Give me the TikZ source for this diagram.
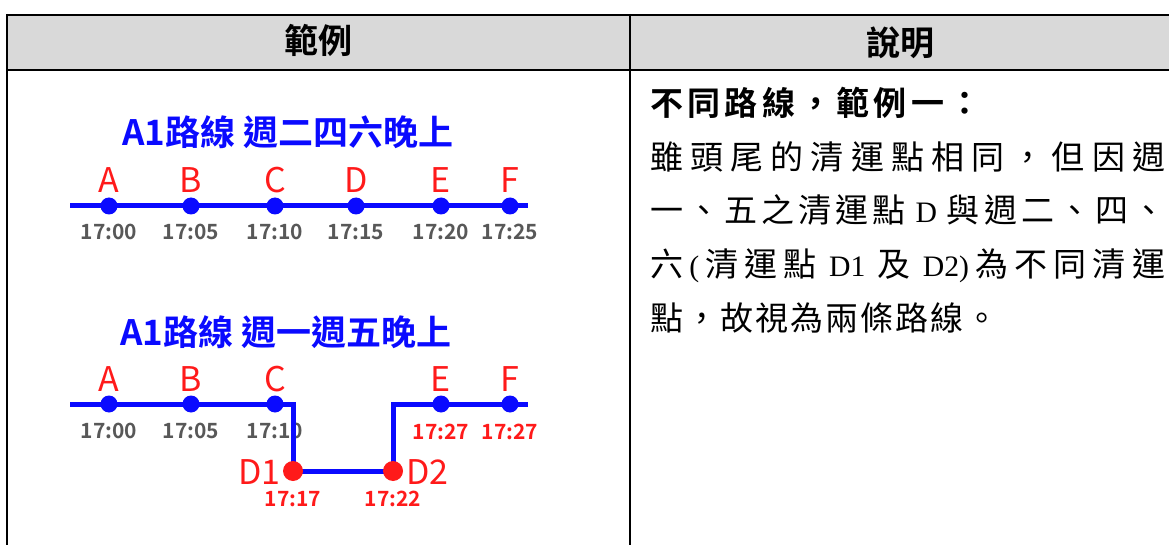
\documentclass[tikz,border=0pt]{standalone}
\usepackage{fontspec}
\setmainfont{Noto Sans CJK TC}[BoldFont={* Bold}]
\newfontfamily\tms[Scale=0.9]{Liberation Serif}
\definecolor{hdr}{HTML}{D9D9D9}
\definecolor{rb}{HTML}{0A0AFF}
\definecolor{rr}{HTML}{FF1A1A}
\definecolor{tg}{HTML}{585858}
\makeatletter
\newcommand\jline[2]{\makebox[#1][s]{\def\jsep{}\@tfor\jtok:=#2\do{\jsep{\jtok}\def\jsep{\hfil}}}}
\makeatother
\begin{document}
\begin{tikzpicture}[x=1pt,y=-1pt,
  grid/.style={line width=2.2pt, draw=black},
  route/.style={draw=rb, line width=5pt},
  bdot/.style={circle, fill=rb, minimum size=17pt, inner sep=0pt},
  rdot/.style={circle, fill=rr, minimum size=20pt, inner sep=0pt},
  stn/.style={text=rr, font=\fontsize{34}{34}\selectfont, anchor=base, inner sep=0pt},
  ttl/.style={text=rb, font=\fontsize{35}{35}\selectfont\bfseries, anchor=base, inner sep=0pt},
  tm/.style={text=tg, font=\fontsize{21}{21}\selectfont\bfseries, anchor=base, inner sep=0pt},
  rtm/.style={text=rr, font=\fontsize{21}{21}\selectfont\bfseries, anchor=base, inner sep=0pt},
  body/.style={anchor=base west, inner sep=0pt, font=\fontsize{33}{33}\selectfont},
  hd/.style={anchor=base, inner sep=0pt, font=\fontsize{34}{34}\selectfont\bfseries}]
\useasboundingbox (0,0) rectangle (1169,545);
% table
\fill[hdr] (7,15) rectangle (1180,70);
\draw[grid] (7,15) -- (1180,15);
\draw[grid] (7,70) -- (1180,70);
\draw[grid] (7,14) -- (7,550);
\draw[grid] (630,14) -- (630,550);
\node[hd] (h1) at (318,54) {範例};
\node[hd] (h2) at (900,56) {說明};
% top diagram
\node[ttl] (t1) at (288,146) {A1路線 週二四六晚上};
\coordinate (s1) at (70,206);
\coordinate (e1) at (528,206);
\foreach \n/\x/\t in {A/109/17:00,B/191/17:05,C/275/17:10,D/356/17:15,E/441/17:20,F/510/17:25}{
  \node[tm] (tt\n) at (\x,240) {\t};
}
\draw[route] (s1) -- (e1);
\foreach \n/\x in {A/109,B/191,C/275,D/356,E/441,F/510}{
  \node[bdot] (p\n) at (\x,206) {};
  \node[stn] (l\n) at (\x,193) {\n};
}
% bottom diagram
\node[ttl] (t2) at (286,345) {A1路線 週一週五晚上};
\foreach \n/\x/\t in {A/109/17:00,B/191/17:05,C/275/17:10}{
  \node[tm] (bt\n) at (\x,438) {\t};
}
\node[rtm] (btE) at (441,439) {17:27};
\node[rtm] (btF) at (510,439) {17:27};
\node[rtm] (btD1) at (293,506) {17:17};
\node[rtm] (btD2) at (393,506) {17:22};
\coordinate (s2) at (70,404);
\coordinate (c2) at (293,404);
\coordinate (q1) at (293,471);
\coordinate (q2) at (393,471);
\coordinate (c3) at (393,404);
\coordinate (e2) at (528,404);
\draw[route] (s2) -- (c2) -- (q1) -- (q2) -- (c3) -- (e2);
\foreach \n/\x in {A/109,B/191,C/275,E/441,F/510}{
  \node[bdot] (bp\n) at (\x,404) {};
  \node[stn] (bl\n) at (\x,391) {\n};
}
\node[rdot] (pD1) at (q1) {};
\node[rdot] (pD2) at (q2) {};
\node[stn, anchor=base east] (lD1) at (281,484) {D1};
\node[stn, anchor=base west] (lD2) at (406,484) {D2};
% description
\node[body, font=\fontsize{33}{33}\selectfont\bfseries\addfontfeatures{LetterSpace=13}] (r1) at (650,115.5) {不同路線，範例一：};
\node[body] (r2) at (650,169.5) {\jline{515pt}{雖頭尾的清運點相同，但因週}};
\node[body] (r3) at (650,222.5) {\jline{515pt}{一、五之清運點{\tms\hspace{6pt}D\hspace{6pt}}與週二、四、}};
\node[body] (r4) at (650,276.5) {\jline{515pt}{六{\tms(}清運點{\tms\hspace{6pt}D1\hspace{6pt}}及{\tms\hspace{6pt}D2)}為不同清運}};
\node[body, font=\fontsize{33}{33}\selectfont\addfontfeatures{LetterSpace=6}] (r5) at (650,330.5) {點，故視為兩條路線。};
\end{tikzpicture}
\end{document}
